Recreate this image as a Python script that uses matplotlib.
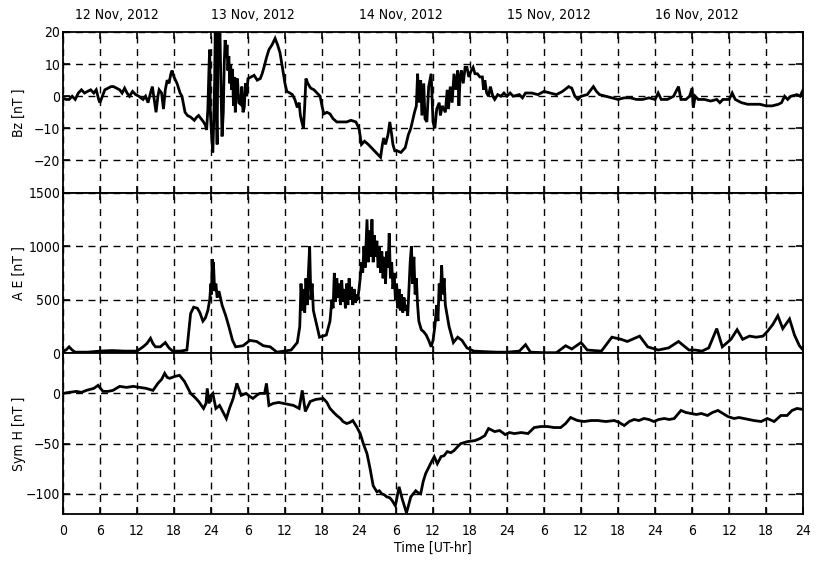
import matplotlib
matplotlib.use("Agg")
import matplotlib.pyplot as plt
from matplotlib import font_manager

# IMF Bz [nT], hours from 12 Nov 2012 00 UT
bz_t = [0.0, 0.5, 1.0, 1.5, 2.0, 2.5, 3.0, 3.5, 4.0, 4.5, 5.0, 5.4, 5.8, 6.0, 6.4, 6.8,
        7.3, 7.8, 8.2, 8.7, 9.2, 9.6, 10.0, 10.4, 10.8, 11.3, 11.8, 12.3, 13.0, 13.4, 13.8,
        14.2, 14.5, 14.8, 15.1, 15.4, 15.6, 16.0, 16.3, 16.6, 16.9, 17.2, 17.5, 17.7, 18.0,
        18.5, 19.0, 19.3, 19.8, 20.2, 20.7, 21.3, 21.7, 22.0, 22.4, 22.8, 23.1, 23.3, 23.5,
        23.7, 23.8, 23.9, 24.1, 24.3, 24.45, 24.6, 24.7, 24.85, 25.0, 25.15, 25.3, 25.45,
        25.6, 25.8, 26.0, 26.15, 26.3, 26.5, 26.6, 26.75, 26.9, 27.05, 27.2, 27.35, 27.5,
        27.65, 27.8, 27.95, 28.1, 28.3, 28.5, 28.8, 29.0, 29.2, 29.4, 29.6, 29.8, 30.0,
        30.5, 31.0, 31.5, 32.0, 32.3, 32.6, 33.0, 33.4, 33.9, 34.4, 34.8, 35.2, 35.5, 35.8,
        36.0, 36.3, 36.8, 37.2, 37.6, 38.0, 38.3, 38.5, 38.8, 39.0, 39.2, 39.4, 39.7, 40.0,
        40.2, 40.7, 41.2, 41.7, 42.0, 42.3, 42.8, 43.3, 43.8, 44.4, 45.2, 46.0, 46.7, 47.5,
        48.0, 48.4, 48.9, 49.5, 50.0, 50.5, 51.0, 51.5, 51.8, 52.0, 52.3, 52.7, 53.0, 53.3,
        53.5, 53.8, 54.2, 54.8, 55.5, 56.0, 56.4, 57.0, 57.3, 57.5, 57.7, 58.0, 58.2, 58.5,
        58.7, 59.0, 59.3, 59.7, 60.0, 60.3, 60.6, 61.0, 61.2, 61.5, 62.0, 62.3, 62.5, 62.8,
        63.1, 63.4, 63.7, 64.0, 64.2, 64.4, 64.6, 64.9, 65.2, 65.5, 65.8, 66.2, 66.5, 66.8,
        67.2, 67.6, 68.0, 68.2, 68.4, 68.7, 69.0, 69.3, 69.7, 70.0, 70.5, 71.0, 71.5, 72.0,
        72.5, 73.0, 74.0, 74.5, 75.0, 76.0, 77.0, 78.0, 79.0, 80.0, 81.0, 82.0, 82.5, 83.0,
        83.5, 84.0, 85.0, 86.0, 86.5, 87.0, 88.0, 89.0, 90.0, 91.0, 92.0, 93.0, 94.0, 95.0,
        96.0, 96.5, 97.0, 98.0, 99.0, 99.8, 100.2, 101.0, 101.6, 102.0, 102.2, 102.5, 103.0,
        104.0, 105.0, 106.0, 106.5, 107.0, 108.0, 108.5, 109.0, 110.0, 111.0, 112.0, 113.0,
        114.0, 115.0, 116.0, 116.5, 117.0, 117.5, 118.0, 119.0, 119.5, 120.0]
bz_v = [-0.5, -1, -1, 0, -1, 1, 2, 1, 1.5, 2, 1, 2, -1, -2, 0, 2,
        2.5, 3, 3, 2.5, 2, 1, 2.5, 1, 0, 1.5, 0.5, 0, -1, 0, -2,
        1, 3, -1, -5, 0, 2, 1, -4, 2, 5, 4, 7, 8, 6,
        4, 1, 0, -5, -6, -6.5, -7.5, -6.5, -6, -7, -8, -9, -10.5, -4,
        10, 14.5, -5, -12, -17.5, -8, 5, 21, 0, -15, 21, 12, 21,
        5, -12.5, -5, 10, 17.5, 12, 16, 8, 12.5, 4, 10, 2, 8.5,
        -3, 6, -5, 5, 5.5, -2, -2.5, 3, -5, -3.5, 4, 0, 5.5,
        6, 6.5, 5, 5.5, 7, 9, 12, 14.5, 16, 18, 16, 13.5, 10, 6.5,
        4, 1.5, 1, 0.5, -1, -3.5, -2, -6, -8.5, -10, -3, 5.5, 4, 3,
        2.5, 2, 1, 0, -3, -5.5, -5, -5.5, -7, -8, -8, -8, -7.5, -8,
        -10, -15, -14, -15, -16, -17, -18, -19, -15, -13, -15, -12, -8, -12,
        -15, -17, -17, -17.5, -16, -12, -10, -5, -3, 7, -2, 5, -6, 4,
        -7, -8, 3, 7, -8, -10, -4, -2, -6, -3, -5, 2, -4, 3,
        -2, 7, 2, 8, -3, 6, 8, 4, 9, 9, 6, 8, 9, 7,
        7, 6, 6, 2, 5, 1, 0, 3, 0, -1, 0.5, 0, 1, 0,
        1, 0, 0.5, -0.5, 1, 1, 0.5, 1.5, 1, 0.5, 1.5, 3, 2.5, 0,
        -1, 0, 0.5, 3, 1.5, 0.5, 0, -0.5, -1, -0.5, -0.5, -1, -1, -0.5,
        -1, 1, -1, -1, 0, 3, -1, -1, 0, 2.5, -3.5, 0, -1,
        -1, -1.5, -1, -2, -1, -1, 1, -1, -2, -2.5, -2.5, -2.5,
        -3, -3, -2.5, -2, 0, -1, 0, 0.5, 0, 2]

# AE index [nT]
ae_t = [0.0, 0.5, 1.0, 1.5, 2.0, 4.0, 6.0, 8.0, 10.0, 12.0, 13.0, 13.6, 14.2, 14.6, 15.0,
        15.8, 16.6, 17.2, 17.8, 19.0, 20.1, 20.7, 21.2, 21.8, 22.2, 22.7, 23.1, 23.5,
        23.8, 24.0, 24.1, 24.2, 24.3, 24.4, 24.6, 24.8, 25.0, 25.3, 25.8, 26.4, 26.9,
        27.5, 28.0, 29.2, 30.3, 31.4, 32.5, 33.6, 34.7, 35.8, 37.0, 38.0, 38.4, 38.6,
        38.8, 39.0, 39.2, 39.4, 39.6, 39.8, 40.0, 40.2, 40.4, 40.6, 41.0, 41.6, 42.7,
        43.3, 43.6, 43.8, 44.0, 44.2, 44.4, 44.6, 44.8, 45.0, 45.2, 45.4, 45.6, 45.8,
        46.0, 46.2, 46.4, 46.6, 46.8, 47.0, 47.2, 47.4, 47.6, 47.8, 48.0, 48.2, 48.4,
        48.6, 48.8, 49.0, 49.2, 49.3, 49.5, 49.7, 49.9, 50.1, 50.3, 50.5, 50.7, 50.9,
        51.1, 51.3, 51.5, 51.7, 51.9, 52.1, 52.3, 52.5, 52.7, 52.9, 53.1, 53.3, 53.5,
        53.7, 53.9, 54.1, 54.3, 54.5, 54.7, 54.9, 55.1, 55.3, 55.5, 55.7, 55.9, 56.1,
        56.3, 56.5, 56.7, 56.9, 57.1, 57.3, 57.5, 57.7, 58.1, 58.5, 58.9, 59.3, 59.7,
        60.0, 60.3, 60.6, 60.8, 61.0, 61.2, 61.4, 61.6, 61.8, 62.0, 62.3, 62.6, 63.3,
        64.0, 64.7, 65.5, 66.6, 68.3, 70.4, 72.0, 74.0, 75.0, 75.8, 78.0, 80.0, 81.5,
        82.5, 84.0, 85.0, 87.3, 89.0, 90.5, 91.5, 93.5, 94.8, 96.5, 98.2, 99.8, 101.5,
        102.5, 103.6, 104.7, 106.0, 106.9, 108.3, 109.3, 110.2, 111.3, 112.4, 113.5,
        114.3, 115.1, 115.9, 116.7, 117.8, 118.6, 119.4, 120.0]
ae_v = [20, 30, 60, 30, 10, 10, 20, 25, 20, 20, 60, 90, 140, 90, 60,
        60, 100, 50, 20, 20, 30, 370, 430, 420, 380, 300, 330, 400,
        500, 650, 550, 880, 600, 850, 580, 650, 520, 580, 450, 350, 250,
        120, 60, 70, 120, 110, 70, 60, 10, 20, 30, 100, 250, 650,
        400, 600, 380, 700, 450, 750, 1000, 500, 650, 400, 300, 150, 170,
        300, 500, 420, 750, 480, 700, 520, 650, 450, 680, 480, 600, 420,
        650, 450, 700, 500, 620, 450, 600, 470, 550, 500, 600, 700, 850,
        750, 1000, 800, 1100, 1250, 850, 1150, 900, 1250, 850, 1100, 900, 1050,
        800, 1000, 750, 950, 700, 900, 650, 950, 800, 1120, 700, 850, 600,
        750, 500, 650, 420, 600, 400, 550, 380, 520, 400, 450, 350, 600,
        850, 1000, 650, 900, 550, 700, 450, 300, 220, 200, 170, 120, 60,
        120, 250, 450, 300, 650, 500, 820, 550, 700, 450, 350, 250, 100,
        150, 120, 50, 20, 15, 10, 10, 20, 80, 10, 5, 5, 70,
        40, 100, 30, 20, 150, 130, 110, 160, 60, 30, 50, 110, 30,
        30, 20, 50, 230, 60, 130, 220, 130, 160, 150, 160,
        210, 270, 350, 230, 320, 170, 70, 30]

# Sym-H index [nT]
sym_t = [0.0, 1.0, 2.2, 3.0, 3.8, 5.0, 5.7, 6.5, 7.3, 8.1, 9.2, 10.3, 11.4, 12.5, 13.5,
         14.6, 15.4, 16.0, 16.5, 16.9, 17.3, 18.2, 18.9, 19.7, 20.7, 21.4, 22.0, 22.8,
         23.2, 23.4, 23.7, 24.0, 24.3, 24.8, 25.4, 25.9, 26.5, 27.0, 27.6, 28.2, 28.9,
         29.7, 30.3, 30.8, 31.4, 31.9, 32.7, 33.0, 33.4, 34.1, 35.0, 35.8, 36.6, 37.4,
         38.3, 38.8, 39.3, 40.1, 41.0, 42.2, 42.8, 43.3, 43.9, 44.4, 45.0, 45.4, 46.0,
         46.5, 47.0, 47.6, 48.2, 48.7, 49.3, 49.8, 50.3, 50.9, 51.3, 51.7, 52.1, 52.5,
         53.0, 53.4, 53.9, 54.5, 55.0, 55.7, 56.4, 57.2, 57.6, 58.0, 58.4, 58.8, 59.6,
         60.2, 60.7, 61.3, 61.8, 62.3, 62.9, 63.4, 64.0, 64.5, 65.6, 66.8, 67.6, 68.4,
         69.0, 70.0, 70.8, 71.7, 72.4, 73.2, 74.3, 75.4, 76.4, 77.5, 78.6, 79.6, 80.7,
         81.5, 82.3, 83.4, 84.5, 85.6, 86.7, 88.0, 89.4, 90.2, 91.0, 91.8, 92.6, 93.4,
         94.2, 95.0, 95.8, 96.6, 97.5, 98.3, 99.1, 100.2, 101.0, 101.8, 102.7, 103.5,
         104.5, 105.3, 106.2, 107.0, 107.8, 108.8, 109.6, 110.4, 111.2, 112.0, 113.2,
         114.2, 115.3, 116.4, 117.4, 118.2, 119.0, 120.0]
sym_v = [0, 1, 2, 1, 3, 5, 8, 2, 2, 3, 7, 6, 7, 6, 5,
         3, 10, 14, 20, 16, 15, 17, 18, 12, 0, -4, -8, -15,
         -10, 5, -10, -2, 0, -15, -12, -18, -25, -15, -5, 10, -2,
         0, -3, -5, -2, 0, 0, 10, -12, -10, -9, -10, -11, -12,
         -15, 3, -18, -8, -6, -5, -9, -15, -19, -22, -25, -28, -30,
         -29, -27, -33, -40, -50, -60, -75, -92, -98, -97, -100, -101, -103,
         -104, -107, -112, -93, -105, -119, -103, -97, -99, -100, -88, -80, -70,
         -63, -70, -63, -62, -58, -59, -57, -53, -50, -48, -47, -45, -42,
         -35, -38, -37, -41, -39, -40, -39, -40, -34, -33, -33, -34, -34,
         -30, -24, -27, -28, -27, -27, -28, -27, -29, -32, -28, -26, -27,
         -25, -26, -28, -26, -25, -26, -25, -17, -19, -20, -21, -20,
         -22, -19, -17, -20, -23, -25, -24, -25, -26, -27, -28,
         -25, -28, -22, -22, -17, -15, -16]

hour_ticks = list(range(0, 121, 6))
hour_labels = ["0", "6", "12", "18", "24", "6", "12", "18", "24", "6", "12", "18",
               "24", "6", "12", "18", "24", "6", "12", "18", "24"]
day_pos = [2, 24, 48, 72, 96]
day_labels = ["12 Nov, 2012", "13 Nov, 2012", "14 Nov, 2012", "15 Nov, 2012", "16 Nov, 2012"]

names = {f.name for f in font_manager.fontManager.ttflist}
family = "Liberation Sans Narrow" if "Liberation Sans Narrow" in names else "DejaVu Sans"
plt.rcParams["font.family"] = family
plt.rcParams["font.stretch"] = "condensed"
plt.rcParams["font.size"] = 10

fig, axes = plt.subplots(3, 1, sharex=True, figsize=(8.17, 5.61), dpi=100)
fig.subplots_adjust(left=0.077, right=0.983, bottom=0.084, top=0.943, hspace=0)

panels = [
    (bz_t, bz_v, (-30, 20), [-20, -10, 0, 10, 20], "Bz [nT ]"),
    (ae_t, ae_v, (0, 1500), [0, 500, 1000, 1500], "A E [nT ]"),
    (sym_t, sym_v, (-120, 40), [-100, -50, 0], "Sym H [nT ]"),
]

for ax, (t, v, ylim, yt, lab) in zip(axes, panels):
    ax.plot(t, v, color="black", lw=2.0, solid_joinstyle="miter")
    ax.set_ylim(*ylim)
    ax.set_yticks(yt)
    ax.set_xlim(0, 120)
    ax.set_xticks(hour_ticks)
    ax.grid(True, color="black", linestyle=(0, (5, 4)), linewidth=1.0)
    ax.tick_params(direction="in", length=5, width=1.2, top=True, right=True,
                   labelsize=10, pad=2)
    ax.tick_params(axis="x", pad=7)
    ax.set_ylabel(lab, fontsize=10)
    ax.yaxis.set_label_coords(-0.05, 0.5)
    for s in ax.spines.values():
        s.set_linewidth(1.3)

axes[2].set_xticklabels(hour_labels)
axes[2].set_xlabel("Time [UT-hr]", fontsize=10, labelpad=2)

for x, lab in zip(day_pos, day_labels):
    axes[0].annotate(lab, xy=(x, 1), xycoords=("data", "axes fraction"),
                     xytext=(0, 7), textcoords="offset points",
                     ha="left", va="bottom", fontsize=10)

fig.savefig("out.png", dpi=100)
